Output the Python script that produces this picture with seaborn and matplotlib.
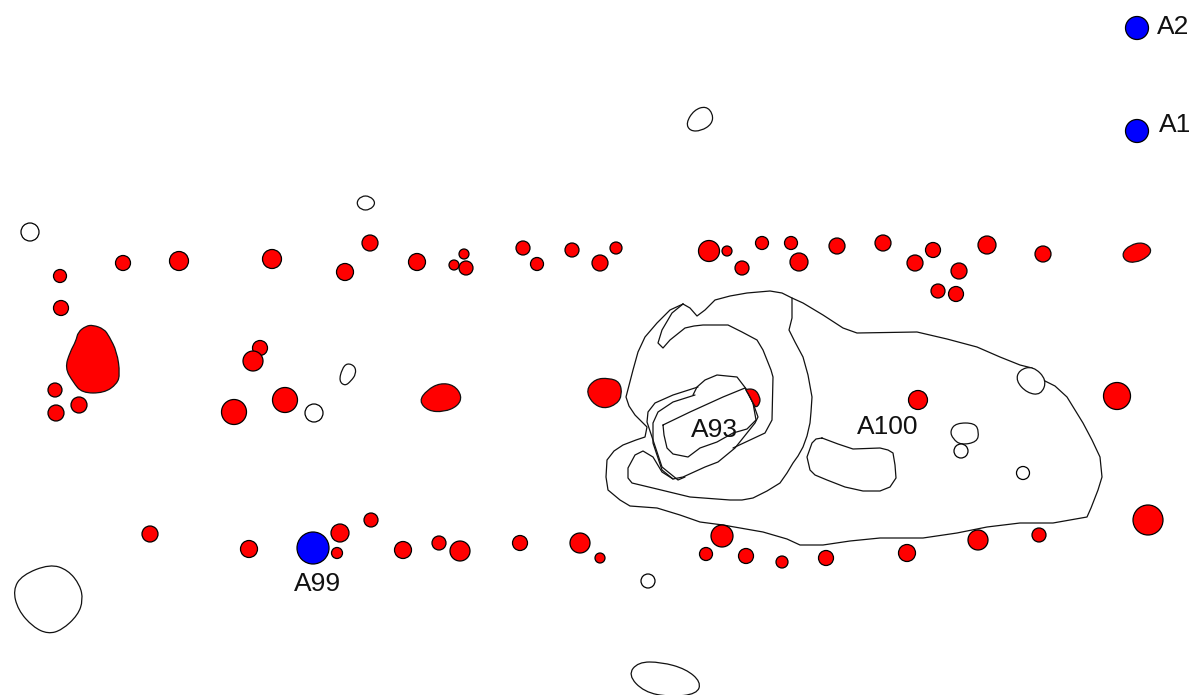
import numpy as np
import pandas as pd
import seaborn as sea
import matplotlib.pyplot as plt
from matplotlib.path import Path
from matplotlib.patches import PathPatch

red_pits = [
    (60, 276, 13), (123, 263, 15), (179, 261, 19), (272, 259, 19), (345, 272, 17), (370, 243, 16),
    (417, 262, 17), (454, 265, 10), (464, 254, 10), (466, 268, 14), (523, 248, 14), (537, 264, 13),
    (572, 250, 14), (600, 263, 16), (616, 248, 12), (709, 251, 21), (727, 251, 10), (742, 268, 14),
    (762, 243, 13), (791, 243, 13), (799, 262, 18), (837, 246, 16), (883, 243, 16), (915, 263, 16),
    (933, 250, 15), (959, 271, 16), (938, 291, 14), (956, 294, 15), (987, 245, 18), (1043, 254, 16),
    (61, 308, 15), (55, 390, 14), (56, 413, 16), (79, 405, 16), (260, 348, 15), (253, 361, 20),
    (234, 412, 25), (285, 400, 25), (918, 400, 19), (1117, 396, 27), (1148, 520, 30),
    (150, 534, 16), (249, 549, 17), (340, 533, 18), (337, 553, 11), (371, 520, 14), (403, 550, 17),
    (439, 543, 14), (460, 551, 20), (520, 543, 15), (580, 543, 20), (600, 558, 10), (722, 536, 22),
    (706, 554, 13), (746, 556, 15), (782, 562, 12), (826, 558, 15), (907, 553, 17), (978, 540, 20),
    (1039, 535, 14),
]
blue_pits = [(1137, 28, 23), (1137, 131, 23), (313, 548, 32)]
white_pits = [(30, 232, 18), (314, 413, 18), (648, 581, 14), (961, 451, 14), (1023, 473, 13)]

# larger features that are not round
red_big = [(93, 325), (104, 329), (109, 336), (117, 352), (120, 374), (117, 384), (104, 393), (82, 393),
           (73, 382), (65, 368), (70, 352), (76, 341), (78, 332), (86, 326)]
red_a = [(419, 401), (427, 390), (440, 383), (454, 385), (462, 396), (458, 406), (444, 412), (428, 411)]
red_b = [(586, 390), (595, 379), (609, 378), (620, 382), (622, 395), (617, 404), (604, 409), (592, 403)]
red_c = [(1122, 253), (1130, 245), (1143, 242), (1152, 249), (1148, 257), (1135, 263), (1125, 261)]
red_d = [(745, 389), (755, 389), (760, 397), (760, 403), (756, 408), (753, 403), (748, 393)]

white_a = [(13, 590), (22, 575), (50, 564), (68, 570), (80, 585), (83, 600), (78, 615), (62, 630), (48, 634),
           (33, 627), (18, 610)]
white_b = [(628, 675), (638, 662), (661, 662), (686, 669), (701, 682), (697, 694), (670, 697), (644, 692)]
white_c = [(347, 363), (355, 366), (356, 374), (351, 381), (345, 386), (339, 381), (342, 369)]
white_d = [(956, 423), (975, 423), (979, 432), (977, 442), (961, 445), (953, 439), (950, 431)]
white_e = [(686, 123), (694, 110), (706, 106), (713, 114), (712, 124), (701, 131), (690, 131)]
white_f = [(1033, 366), (1019, 370), (1016, 381), (1027, 393), (1041, 395), (1047, 380)]
white_g = [(356, 203), (361, 196), (370, 196), (376, 203), (370, 210), (361, 210)]

# contour lines
outer = [(683, 304), (690, 308), (697, 316), (705, 310), (715, 300), (730, 296), (747, 293), (770, 291),
         (782, 293), (792, 298), (803, 303), (823, 315), (843, 328), (857, 333), (917, 332), (947, 339),
         (977, 347), (1000, 357), (1020, 365), (1032, 368), (1045, 381), (1055, 386), (1067, 397),
         (1075, 410), (1083, 423), (1092, 440), (1100, 457), (1102, 477), (1098, 490), (1091, 508),
         (1087, 517), (1070, 520), (1053, 523), (1020, 523), (987, 527), (957, 533), (923, 538), (880, 538),
         (850, 541), (823, 545), (800, 545), (787, 539), (763, 532), (723, 525), (700, 522), (680, 515),
         (657, 508), (630, 506), (620, 500), (608, 490), (606, 477), (607, 460), (614, 451), (623, 445),
         (636, 440), (645, 437), (647, 427), (635, 415), (629, 406), (626, 397), (633, 370), (638, 352),
         (645, 337), (657, 323), (670, 310), (683, 304)]
middle = [(792, 298), (792, 318), (789, 330), (795, 342), (803, 357), (808, 375), (812, 397), (811, 412),
          (810, 423), (807, 436), (803, 447), (798, 456), (793, 463), (787, 473), (780, 483), (767, 491),
          (753, 498), (742, 500), (730, 500), (690, 497), (657, 489), (632, 483), (628, 478), (628, 468),
          (635, 455), (643, 451), (653, 457), (662, 472), (673, 479), (683, 477), (705, 467), (718, 462),
          (735, 448), (755, 423), (758, 417), (753, 403), (747, 390), (737, 377), (717, 375), (705, 380),
          (697, 387), (693, 395)]
hook = [(683, 304), (672, 313), (662, 330), (658, 343), (663, 348), (670, 340), (685, 328), (694, 326),
        (703, 325), (728, 325), (742, 332), (757, 340), (763, 350), (767, 360), (771, 370), (773, 377),
        (772, 420), (765, 433), (733, 448)]
core = [(663, 425), (690, 412), (723, 397), (745, 388), (753, 403), (756, 420), (747, 429), (733, 433),
        (717, 442), (700, 448), (688, 457), (673, 454), (667, 448), (664, 435), (663, 425)]
ring_a = [(698, 387), (673, 395), (655, 403), (648, 412), (647, 422), (653, 440), (662, 467), (678, 480),
          (685, 477)]
ring_b = [(695, 395), (673, 402), (658, 412), (653, 423), (653, 443), (662, 470), (673, 479)]
a100 = [(822, 438), (838, 444), (853, 449), (880, 448), (888, 450), (893, 453), (895, 465), (896, 478),
        (890, 487), (880, 491), (863, 491), (845, 487), (827, 480), (815, 475), (810, 470), (807, 457),
        (812, 443), (816, 439), (822, 438)]

labels = ['A2', 'A1', 'A99', 'A93', 'A100']
label_x = [1157, 1159, 318, 714, 888]
label_y = [27, 125, 584, 430, 427]
label_ha = ['left', 'left', 'center', 'center', 'center']


def draw_pits(ax, pits, colour):
    df = pd.DataFrame(pits, columns=['x', 'y', 'd'])
    # diameter in px to marker area in pt^2 (dpi 100)
    sea.scatterplot(data=df, x='x', y='y', s=(df['d'] * 0.72) ** 2, color=colour, edgecolor='black',
                    linewidth=0.9, legend=False, ax=ax, zorder=3)


def draw_line(ax, pts):
    df = pd.DataFrame(pts, columns=['x', 'y'])
    sea.lineplot(data=df, x='x', y='y', sort=False, estimator=None, color='#111111', linewidth=0.9,
                 ax=ax, zorder=2)


def draw_blob(ax, pts, colour):
    # closed curve that uses the read points as control points
    pts = np.array(pts, dtype=float)
    mids = (pts + np.roll(pts, -1, axis=0)) / 2
    verts = [mids[-1]]
    codes = [Path.MOVETO]
    for p, m in zip(pts, mids):
        verts += [p, m]
        codes += [Path.CURVE3, Path.CURVE3]
    patch = PathPatch(Path(verts, codes), facecolor=colour, edgecolor='#111111', linewidth=0.9, zorder=3)
    ax.add_patch(patch)


def main():
    sea.set_style('white')
    plt.rcParams['font.family'] = ['Liberation Sans', 'DejaVu Sans']

    fig = plt.figure(figsize=(11.91, 6.95), dpi=100)
    ax = fig.add_axes([0, 0, 1, 1])

    for line in [outer, middle, hook, core, ring_a, ring_b, a100]:
        draw_line(ax, line)

    for shape in [red_big, red_a, red_b, red_c, red_d]:
        draw_blob(ax, shape, '#ff0000')
    for shape in [white_a, white_b, white_c, white_d, white_e, white_f, white_g]:
        draw_blob(ax, shape, 'white')

    draw_pits(ax, red_pits, '#ff0000')
    draw_pits(ax, blue_pits, '#0000ff')
    draw_pits(ax, white_pits, 'white')

    for name, x, y, ha in zip(labels, label_x, label_y, label_ha):
        ax.text(x, y, name, fontsize=19, color='#111111', ha=ha, va='center', zorder=4)

    ax.set_xlim(0, 1191)
    ax.set_ylim(695, 0)
    ax.axis('off')
    fig.savefig('out.png', dpi=100)


if __name__ == '__main__':
    main()
